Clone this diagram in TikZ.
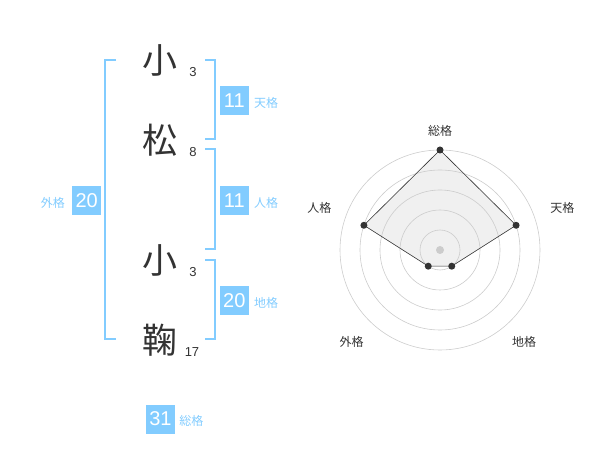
\documentclass[tikz,border=0pt]{standalone}
\usepackage{fontspec}
\setmainfont{Liberation Sans}
\newfontfamily\jpfont{Noto Sans CJK JP}
\usetikzlibrary{positioning}
\definecolor{kakublue}{RGB}{130,204,255}
\definecolor{inkgray}{RGB}{51,51,51}
\tikzset{x=1pt, y=-1pt,
    kanji/.style={
        font=\jpfont\fontsize{35}{35}\selectfont,
        text=inkgray, inner sep=0pt},
    strokes/.style={
        font=\fontsize{13}{13}\selectfont,
        text=inkgray, inner sep=0pt},
    score/.style={
        fill=kakublue, text=white,
        minimum size=29pt, inner sep=0pt,
        font=\fontsize{20}{20}\selectfont},
    kaku/.style={
        font=\jpfont\fontsize{12}{12}\selectfont,
        text=kakublue, inner sep=0pt},
    bracket/.style={
        draw=kakublue, line width=2pt},
    ring/.style={
        draw=gray!40, line width=0.6pt},
    axislabel/.style={
        font=\jpfont\fontsize{12}{12}\selectfont,
        text=inkgray, inner sep=0pt},
    dot/.style={
        circle, fill=inkgray,
        inner sep=0pt, minimum size=7pt}}

\begin{document}
\begin{tikzpicture}
        \useasboundingbox (0,0) rectangle (600,470);

        % name column
        \node[kanji] (k1) at (160,60) {小};
        \node[kanji] (k2) at (160,140) {松};
        \node[kanji] (k3) at (160,260) {小};
        \node[kanji] (k4) at (160,340) {鞠};
        \node[strokes] (s1) at (193,72) {3};
        \node[strokes] (s2) at (193,152) {8};
        \node[strokes] (s3) at (193,272) {3};
        \node[strokes] (s4) at (192,352) {17};

        % brackets
        \draw[bracket] (116,60) -- (105,60) -- (105,339.5) -- (116,339.5);
        \draw[bracket] (205,60) -- (214.5,60) -- (214.5,139.5) -- (205,139.5);
        \draw[bracket] (205,149.5) -- (214.5,149.5) -- (214.5,249.5) -- (205,249.5);
        \draw[bracket] (205,260) -- (214.5,260) -- (214.5,339.5) -- (205,339.5);

        % scores
        \node[score] (ten) at (234.3,100.3) {11};
        \node[score] (jin) at (234.3,200.3) {11};
        \node[score] (chi) at (234.3,300.3) {20};
        \node[score] (gai) at (86.7,200.3) {20};
        \node[score] (sou) at (160.5,419) {31};
        \node[kaku,anchor=base west] (tenname) at ([xshift=5pt]ten.base east) {天格};
        \node[kaku,anchor=base west] (jinname) at ([xshift=5pt]jin.base east) {人格};
        \node[kaku,anchor=base west] (chiname) at ([xshift=5pt]chi.base east) {地格};
        \node[kaku,anchor=base east] (gainame) at ([xshift=-7pt]gai.base west) {外格};
        \node[kaku,anchor=base west] (souname) at ([xshift=4pt]sou.base east) {総格};

        % radar
        \begin{scope}[shift={(440,250)}, yscale=-1]
            \coordinate (vsou) at (90:100);
            \coordinate (vten) at (18:80);
            \coordinate (vchi) at (-54:20);
            \coordinate (vgai) at (-126:20);
            \coordinate (vjin) at (162:80);
            \fill[gray!12] (vsou) -- (vten) -- (vchi) -- (vgai) -- (vjin) -- cycle;
            \foreach \r in {20,40,...,100}
                \draw[ring] (0,0) circle (\r pt);
            \fill[gray!40] (0,0) circle (4pt);
            \draw[inkgray, line width=0.6pt]
                (vsou) -- (vten) -- (vchi) -- (vgai) -- (vjin) -- cycle;
            \foreach \v in {vsou,vten,vchi,vgai,vjin}
                \node[dot] (d\v) at (\v) {};
        \end{scope}
        \node[axislabel] (asou) at (440,130.7) {総格};
        \node[axislabel] (aten) at (562.3,208.3) {天格};
        \node[axislabel] (ajin) at (319.3,208.3) {人格};
        \node[axislabel] (agai) at (351.7,342.3) {外格};
        \node[axislabel] (achi) at (524,342.3) {地格};
    \end{tikzpicture}
\end{document}
